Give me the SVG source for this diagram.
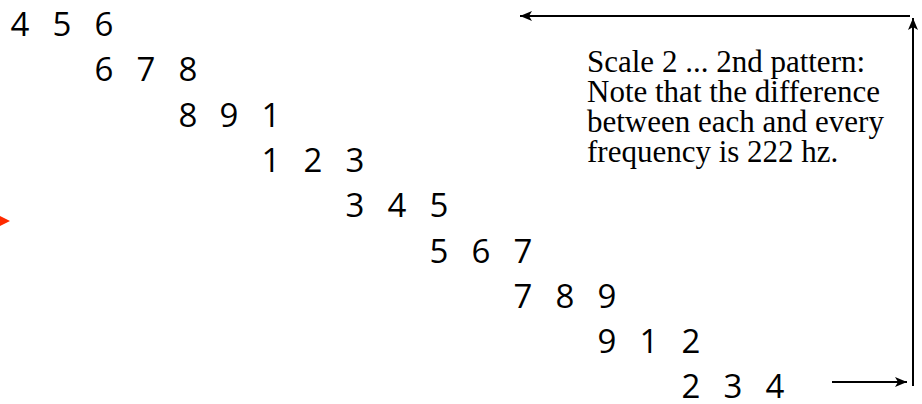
<svg xmlns="http://www.w3.org/2000/svg" width="922" height="404" viewBox="0 0 922 404">
<style>
.d{font-family:"Open Sans","Noto Sans",sans-serif;font-size:33px;fill:#000}
.t{font-family:"Liberation Serif","Times New Roman",serif;font-size:31px;fill:#000}
.c{stroke:#000;stroke-width:2;fill:none}
</style>
<defs>
<marker id="ah" viewBox="0 0 12 10" refX="12" refY="5" markerWidth="12" markerHeight="10" markerUnits="userSpaceOnUse" orient="auto">
<path d="M0,0 L12,5 L0,10 L3,5 z" fill="#000"/>
</marker>
</defs>
<rect width="922" height="404" fill="#fff"/>
<g id="rows" class="d" text-anchor="middle">
<text id="r1" x="20 41 62 83 104" y="36">4 5 6</text>
<text id="r2" x="104 125 146 167 188" y="81">6 7 8</text>
<text id="r3" x="188 209 229 250 271" y="127">8 9 1</text>
<text id="r4" x="271 292 313 334 355" y="172">1 2 3</text>
<text id="r5" x="355 376 397 418 439" y="217">3 4 5</text>
<text id="r6" x="439 460 481 502 523" y="263">5 6 7</text>
<text id="r7" x="523 544 565 586 607" y="308">7 8 9</text>
<text id="r8" x="607 628 649 670 691" y="353">9 1 2</text>
<text id="r9" x="691 712 733 754 775" y="398">2 3 4</text>
</g>
<g id="note" class="t">
<text x="587" y="72">Scale 2 ... 2nd pattern:</text>
<text x="587" y="102">Note that the difference</text>
<text x="587" y="132">between each and every</text>
<text x="587" y="162">frequency is 222 hz.</text>
</g>
<g id="connectors">
<polygon points="0,216 10,221 0,226" fill="#ff2a00"/>
<line class="c" x1="913" y1="386" x2="913" y2="18" marker-end="url(#ah)"/>
<line class="c" x1="910" y1="16" x2="520" y2="16" marker-end="url(#ah)"/>
<line class="c" x1="832" y1="382" x2="907" y2="382" marker-end="url(#ah)"/>
</g>
</svg>
